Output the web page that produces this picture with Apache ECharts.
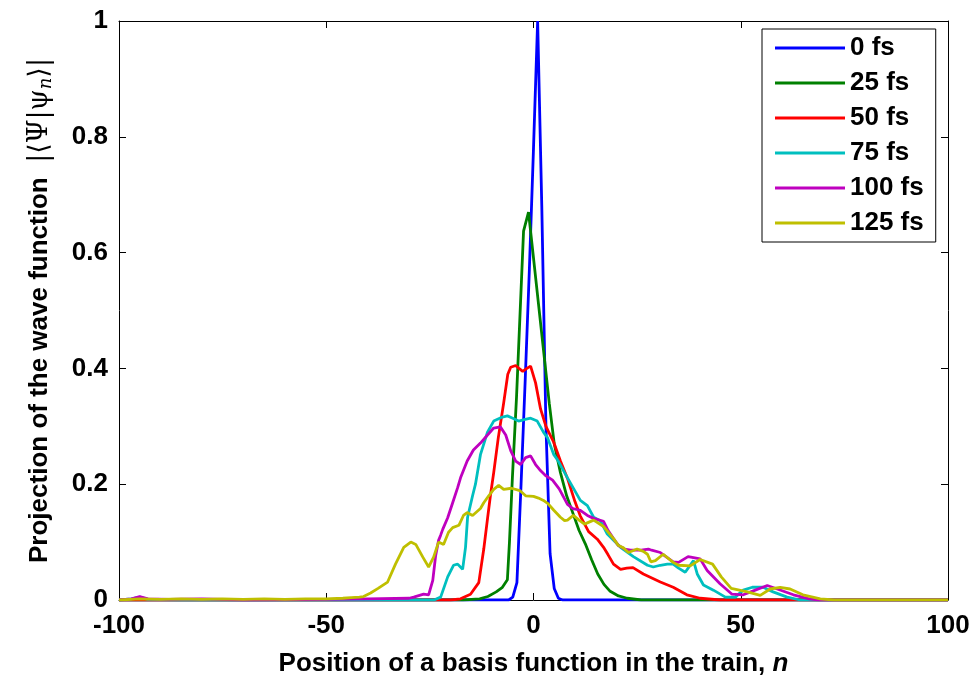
<!DOCTYPE html>
<html>
<head>
<meta charset="utf-8">
<script src="https://cdn.jsdelivr.net/npm/echarts@6/dist/echarts.min.js"></script>
<style>
html,body{margin:0;padding:0;background:#fff;}
#chart{width:976px;height:682px;}
</style>
</head>
<body>
<div id="chart"></div>
<script>
// ---- data ----
const seriesNames = ['0 fs', '25 fs', '50 fs', '75 fs', '100 fs', '125 fs'];
const xTicks = [-100, -50, 0, 50, 100];
const yTicks = [0, 0.2, 0.4, 0.6, 0.8, 1];

const n0 = [-100, -6, -5, -4, -3, -2, -1, 0, 1, 2, 3, 4, 5, 6, 7, 100];
const v0 = [0, 0, 0.005, 0.03, 0.2, 0.38, 0.57, 0.78, 1.0, 0.68, 0.3, 0.08, 0.02, 0.003, 0, 0];

const n25 = [-100, -40, -17, -13, -11, -9, -7.5, -6.3, -5.8, -5.1, -4.1, -2.4, -1.2, 3.8, 5, 6.5, 8, 9.5, 11, 12.5, 14, 15.5, 17, 18.5, 20.5, 22.6, 26, 100];
const v25 = [0, 0, 0, 0.002, 0.006, 0.014, 0.022, 0.035, 0.1, 0.21, 0.35, 0.637, 0.67, 0.34, 0.27, 0.22, 0.18, 0.15, 0.12, 0.097, 0.07, 0.045, 0.027, 0.015, 0.007, 0.003, 0, 0];

const n50 = [-100, -40, -20, -17.6, -15.2, -13.2, -12, -11.1, -10.4, -9.6, -8.5, -7.2, -6.2, -5.5, -4.3, -3.5, -2.6, -1.6, -0.7, 0.5, 1.7, 3, 4.9, 6.5, 8.2, 10, 11.3, 13.3, 15.4, 16.9, 18, 19.3, 21, 22.5, 24, 26.5, 30.6, 33.7, 37, 40.2, 45, 100];
const v50 = [0, 0, 0, 0.002, 0.01, 0.03, 0.088, 0.14, 0.18, 0.22, 0.28, 0.34, 0.39, 0.402, 0.405, 0.4, 0.395, 0.4, 0.404, 0.375, 0.33, 0.3, 0.272, 0.24, 0.21, 0.17, 0.145, 0.118, 0.105, 0.091, 0.078, 0.062, 0.053, 0.055, 0.056, 0.045, 0.031, 0.022, 0.009, 0.003, 0, 0];

const n75 = [-100, -97, -95, -93, -85, -40, -24, -22.4, -20.7, -19.3, -18.3, -17.1, -16.4, -15.9, -14.7, -14, -12.8, -11.1, -9.6, -7.5, -6.3, -5, -3.6, -2, -0.7, 0.9, 2.4, 3.4, 4.9, 5.8, 8.2, 11.3, 13, 14.5, 16.1, 17.8, 21, 24.1, 27.5, 28.9, 30.6, 32.3, 33.7, 35, 36.6, 38.6, 39.5, 41, 43.4, 46.3, 48.7, 50.6, 52.8, 55.4, 57.8, 61.2, 64.3, 100];
const v75 = [0, 0.002, 0.005, 0.001, 0, 0, 0, 0.005, 0.04, 0.06, 0.062, 0.053, 0.091, 0.143, 0.18, 0.2, 0.251, 0.29, 0.309, 0.316, 0.318, 0.314, 0.309, 0.312, 0.314, 0.309, 0.29, 0.28, 0.251, 0.242, 0.211, 0.172, 0.163, 0.143, 0.137, 0.114, 0.091, 0.075, 0.06, 0.057, 0.06, 0.062, 0.062, 0.055, 0.048, 0.068, 0.045, 0.026, 0.017, 0.005, 0.005, 0.017, 0.022, 0.022, 0.014, 0.005, 0, 0];

const n100 = [-100, -97, -95, -93, -88, -80, -70, -50, -40, -30, -28.9, -26.5, -25.3, -24.3, -23.6, -22.9, -22.4, -21.9, -20.7, -19.5, -18.3, -17.6, -16, -14.5, -12.8, -11.1, -9.6, -8, -6.7, -5.5, -4.3, -3.1, -1.9, -0.7, 0.5, 1.5, 2.9, 4.6, 6.2, 8.2, 9.5, 11.3, 13, 14.5, 16.9, 18, 19.3, 20.5, 22, 23.4, 26, 27.7, 28.5, 30.6, 33.7, 35, 37.3, 40.2, 41.9, 45, 47.9, 50.6, 53.5, 56.4, 58.8, 62.7, 66.5, 69, 100];
const v100 = [0, 0.002, 0.006, 0.002, 0.001, 0.002, 0, 0.001, 0.002, 0.003, 0.005, 0.01, 0.009, 0.034, 0.077, 0.103, 0.112, 0.122, 0.142, 0.168, 0.194, 0.211, 0.24, 0.259, 0.271, 0.285, 0.297, 0.299, 0.285, 0.258, 0.24, 0.234, 0.246, 0.249, 0.234, 0.225, 0.215, 0.207, 0.192, 0.165, 0.158, 0.155, 0.146, 0.141, 0.136, 0.12, 0.106, 0.094, 0.088, 0.086, 0.086, 0.088, 0.086, 0.082, 0.066, 0.065, 0.075, 0.071, 0.051, 0.028, 0.01, 0.009, 0.017, 0.025, 0.019, 0.009, 0.002, 0, 0];

const n125 = [-100, -95, -90, -85, -80, -75, -70, -65, -60, -55, -50, -46, -44, -42, -41, -39.3, -37.5, -35.2, -33.3, -31.3, -29.6, -28.4, -26.7, -25.3, -24.1, -22.9, -21.7, -20.5, -19.5, -18, -16.9, -16, -14.7, -12.8, -12, -10.8, -9.6, -8.4, -7.2, -5.3, -3.3, -1.9, 0, 1.2, 2.4, 3.4, 4.9, 6.5, 7.5, 8.2, 9.6, 11, 12.3, 14.5, 16.9, 19.3, 20.5, 21.7, 22.9, 25, 26.5, 27.5, 28.3, 29.4, 31.3, 33.7, 35, 37.8, 40.2, 43.2, 45.3, 47.7, 51.6, 54.7, 57.1, 59.5, 61.9, 65, 69.2, 72.5, 100];
const v125 = [0, 0.002, 0.001, 0.002, 0.001, 0.002, 0.001, 0.002, 0.001, 0.002, 0.002, 0.003, 0.004, 0.005, 0.006, 0.012, 0.02, 0.031, 0.062, 0.091, 0.1, 0.096, 0.074, 0.057, 0.074, 0.1, 0.096, 0.117, 0.125, 0.129, 0.146, 0.151, 0.146, 0.158, 0.168, 0.18, 0.191, 0.198, 0.191, 0.193, 0.189, 0.18, 0.179, 0.176, 0.172, 0.167, 0.155, 0.143, 0.137, 0.138, 0.146, 0.138, 0.131, 0.138, 0.127, 0.106, 0.094, 0.09, 0.082, 0.088, 0.084, 0.079, 0.066, 0.068, 0.079, 0.065, 0.06, 0.059, 0.07, 0.062, 0.04, 0.02, 0.014, 0.008, 0.019, 0.022, 0.019, 0.009, 0.002, 0, 0];

const seriesX = [n0, n25, n50, n75, n100, n125];
const seriesY = [v0, v25, v50, v75, v100, v125];
const colors = ['#0000FF', '#008000', '#FF0000', '#00BFBF', '#BF00BF', '#BFBF00'];

// ---- chart ----
const FONT = '"Liberation Sans", Arial, sans-serif';
const FS = 26;
const chart = echarts.init(document.getElementById('chart'), null, {renderer: 'canvas'});

const series = seriesNames.map((name, i) => ({
  name: name,
  type: 'line',
  xAxisIndex: 0,
  yAxisIndex: 0,
  data: seriesX[i].map((x, k) => [x, seriesY[i][k]]),
  symbol: 'none',
  smooth: false,
  lineStyle: {color: colors[i], width: 2.8},
  itemStyle: {color: colors[i]},
  animation: false,
  z: 2 + i
}));

const tickStyle = {inside: true, length: 7, lineStyle: {color: '#000', width: 1}};
const lineStyle = {lineStyle: {color: '#000', width: 1}};

chart.setOption({
  backgroundColor: '#fff',
  animation: false,
  grid: {left: 119, right: 28, top: 21, bottom: 79, containLabel: false},
  legend: {
    orient: 'vertical',
    left: 762,
    top: 29,
    padding: [6, 12, 6, 13],
    itemWidth: 70,
    itemHeight: 22,
    itemGap: 9,
    backgroundColor: '#fff',
    borderColor: '#000',
    borderWidth: 1,
    borderRadius: 0,
    textStyle: {fontFamily: FONT, fontWeight: 'bold', fontSize: FS, color: '#000'},
    data: seriesNames.map((nm) => ({name: nm, icon: 'path://M0,0 L70,0 L70,3 L0,3 Z'}))
  },
  xAxis: [{
    type: 'value',
    min: xTicks[0], max: xTicks[xTicks.length - 1], interval: 50,
    position: 'bottom',
    axisLine: Object.assign({show: true, onZero: false}, lineStyle),
    axisTick: tickStyle,
    splitLine: {show: false},
    axisLabel: {color: '#000', fontFamily: FONT, fontWeight: 'bold', fontSize: FS, margin: 13},
    name: '{t|Position of a basis function in the train, }{i|n}',
    nameLocation: 'middle',
    nameGap: 51,
    nameTextStyle: {
      rich: {
        t: {fontFamily: FONT, fontWeight: 'bold', fontSize: FS, color: '#000'},
        i: {fontFamily: FONT, fontWeight: 'bold', fontStyle: 'italic', fontSize: FS, color: '#000'}
      }
    }
  }, {
    type: 'value',
    min: xTicks[0], max: xTicks[xTicks.length - 1], interval: 50,
    position: 'top',
    axisLine: Object.assign({show: true, onZero: false}, lineStyle),
    axisTick: tickStyle,
    splitLine: {show: false},
    axisLabel: {show: false}
  }],
  yAxis: [{
    type: 'value',
    min: yTicks[0], max: yTicks[yTicks.length - 1], interval: 0.2,
    position: 'left',
    axisLine: Object.assign({show: true, onZero: false}, lineStyle),
    axisTick: tickStyle,
    splitLine: {show: false},
    axisLabel: {color: '#000', fontFamily: FONT, fontWeight: 'bold', fontSize: FS, margin: 11},
    name: '{t|Projection of the wave function  }{m||⟨Ψ|ψ}{s|n}{m|⟩|}',
    nameLocation: 'middle',
    nameGap: 64,
    nameTextStyle: {
      rich: {
        t: {fontFamily: FONT, fontWeight: 'bold', fontSize: FS, color: '#000'},
        m: {fontFamily: '"DejaVu Serif", serif', fontSize: 27, color: '#000'},
        s: {fontFamily: '"DejaVu Serif", serif', fontStyle: 'italic', fontSize: 18, color: '#000', padding: [12, 0, 0, 0]}
      }
    }
  }, {
    type: 'value',
    min: yTicks[0], max: yTicks[yTicks.length - 1], interval: 0.2,
    position: 'right',
    axisLine: Object.assign({show: true, onZero: false}, lineStyle),
    axisTick: tickStyle,
    splitLine: {show: false},
    axisLabel: {show: false}
  }],
  series: series
});
</script>
</body>
</html>
